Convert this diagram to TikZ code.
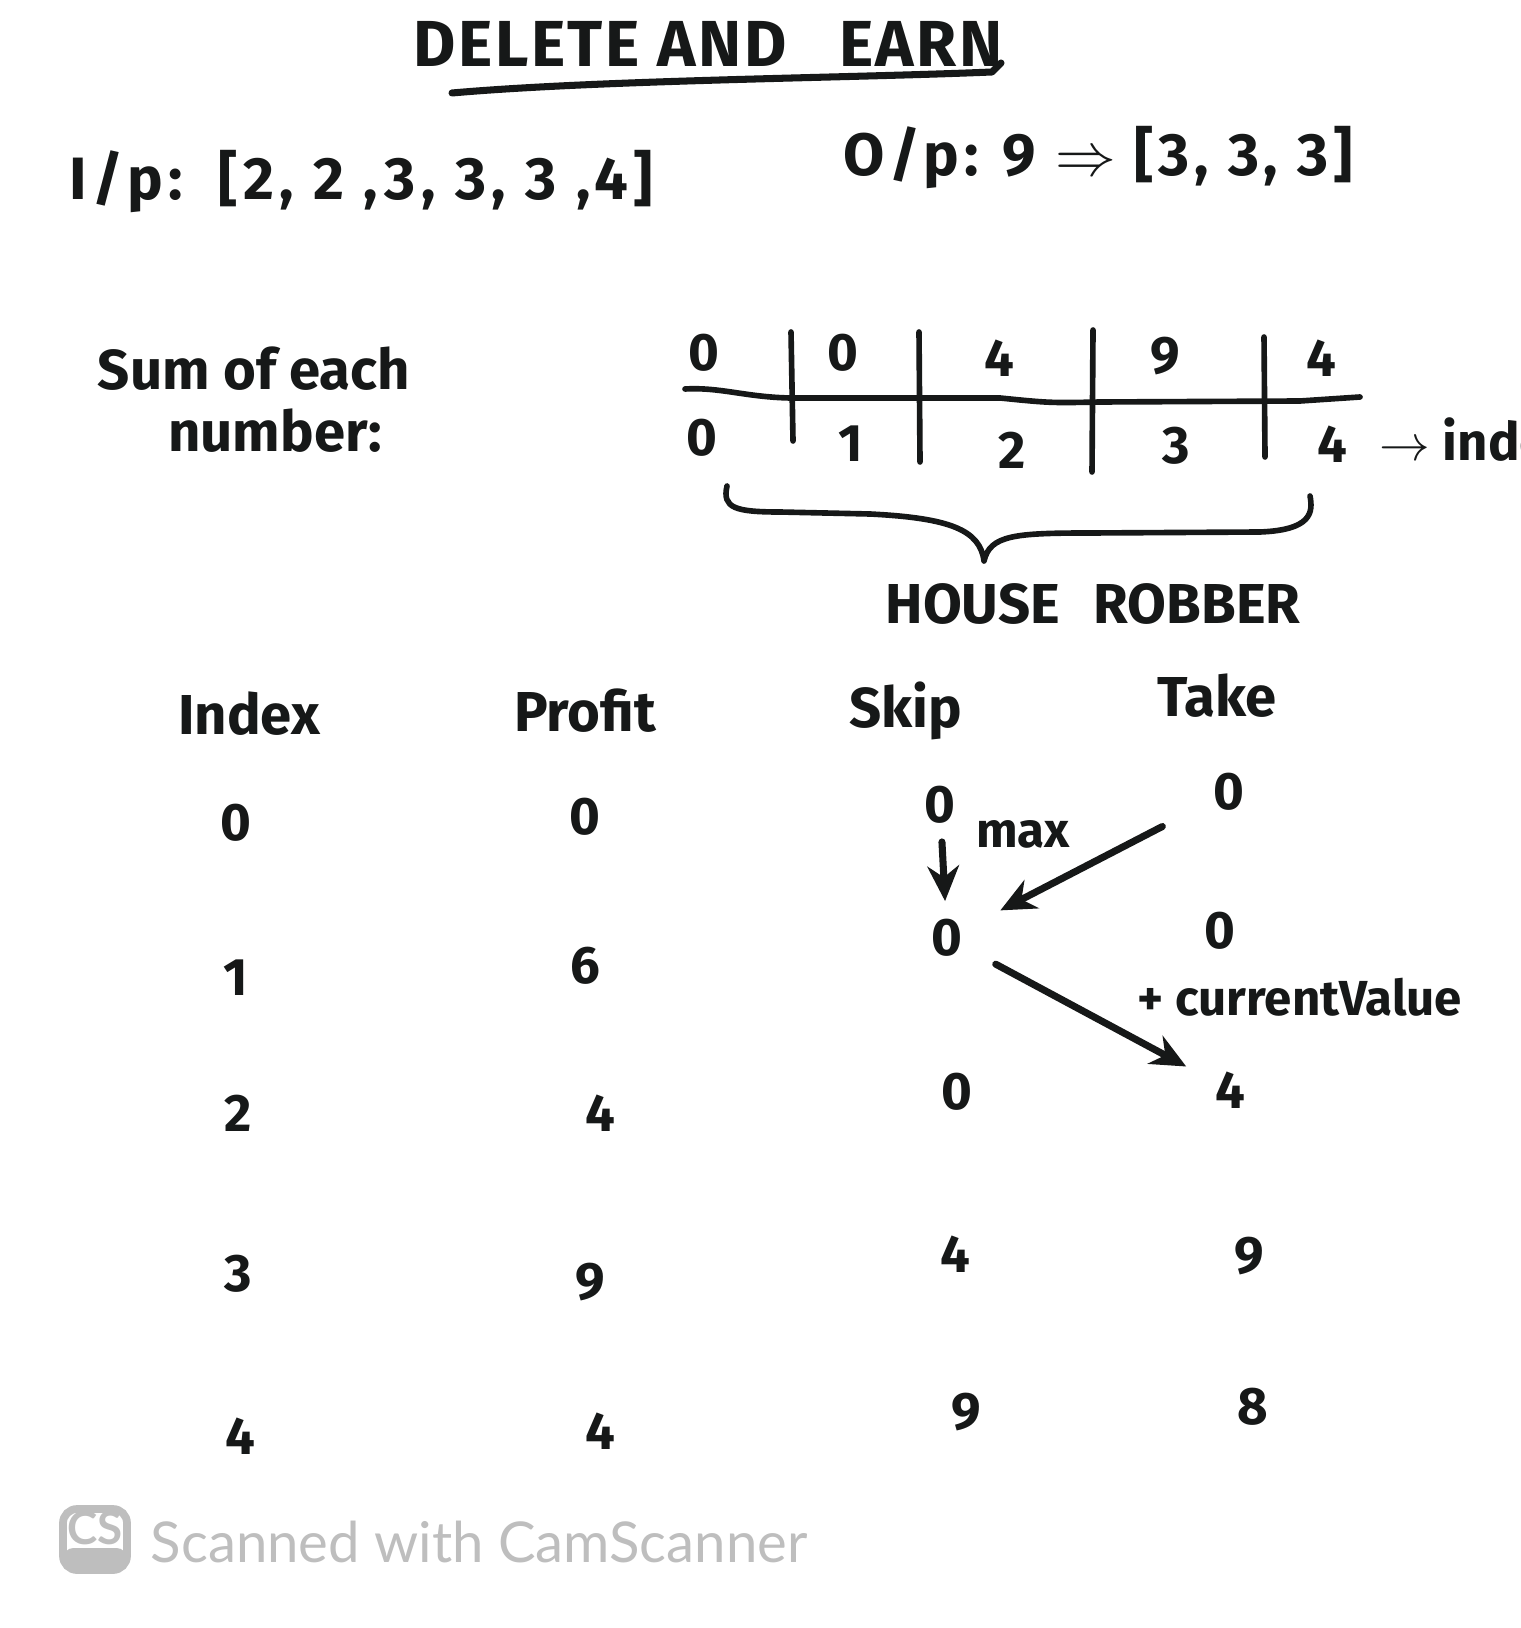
\documentclass[tikz,border=0pt]{standalone}
\usepackage{fontspec}
\setmainfont{Fira Sans}
\newfontfamily\wmfont{Lato}
\usetikzlibrary{arrows.meta}
\definecolor{wmgray}{RGB}{190,190,190}
\definecolor{ink}{RGB}{22,24,24}
\begin{document}
\begin{tikzpicture}[x=0.01cm,y=-0.01cm,
  hw/.style={text=ink, font=\fontsize{16}{18}\selectfont\bfseries, inner sep=2pt},
  val/.style={text=ink, font=\fontsize{15}{17}\selectfont\bfseries, inner sep=3pt},
  small/.style={text=ink, font=\fontsize{14}{16}\selectfont\bfseries, inner sep=2pt},
  pen/.style={draw=ink, line width=1.6pt, line cap=round, line join=round},
  arr/.style={pen, line width=2pt, -{Stealth[length=10pt,width=9pt]}},
  wm/.style={text=wmgray, font=\wmfont\fontsize{16}{18}\selectfont, inner sep=0pt}]
\useasboundingbox (0,0) rectangle (1520,1628);
\fill[white] (0,0) rectangle (1520,1628);

% title
\node[hw, font=\fontsize{18.5}{20}\selectfont\bfseries\addfontfeatures{LetterSpace=4}] (title) at (708,44) {DELETE AND\hspace{0.8em}EARN};
\draw[pen, line width=2pt] (452,93) .. controls (600,80) and (850,78) .. (992,72) -- (1001,63);

% input / output
\node[hw, anchor=west, font=\fontsize{17}{19}\selectfont\bfseries\addfontfeatures{LetterSpace=9}] (inp) at (62,182) {I/p:\hspace{0.6em}[2, 2 ,3, 3, 3 ,4]};
\node[hw, anchor=west, font=\fontsize{17}{19}\selectfont\bfseries\addfontfeatures{LetterSpace=8}] (outp) at (836,158) {O/p:\hspace{0.4em}9 $\Rightarrow$ [3, 3, 3]};

% sum of each number
\node[hw] (sum1) at (254,369) {Sum of each};
\node[hw] (sum2) at (275,431) {number:};

% array
\draw[pen] (685,389) .. controls (720,387) and (745,397) .. (790,398) -- (1000,398)
  .. controls (1050,403) .. (1100,402) -- (1300,401) -- (1360,397);
\draw[pen] (791,332) -- (793,441);
\draw[pen] (919,332) -- (920,462);
\draw[pen] (1093,330) -- (1092,472);
\draw[pen] (1264,337) -- (1265,457);
\node[val] (a0) at (704,353) {0};
\node[val] (a1) at (843,353) {0};
\node[val] (a2) at (999,358) {4};
\node[val] (a3) at (1165,356) {9};
\node[val] (a4) at (1321,358) {4};
\node[val] (i0) at (702,438) {0};
\node[val] (i1) at (851,444) {1};
\node[val] (i2) at (1012,450) {2};
\node[val] (i3) at (1176,446) {3};
\node[val] (i4) at (1332,444) {4};
\node[hw, anchor=west, font=\fontsize{15}{17}\selectfont\bfseries] (idx) at (1372,440) {$\rightarrow$ index};

% brace
\draw[pen] (727,486) .. controls (722,508) and (735,512) .. (780,512)
  -- (870,514) .. controls (950,518) and (980,530) .. (984,561)
  .. controls (990,535) and (1015,533) .. (1090,533)
  -- (1260,532) .. controls (1312,530) and (1313,512) .. (1310,496);
\node[hw] (hr) at (1093,604) {HOUSE\hspace{0.6em}ROBBER};

% table headers
\node[hw] (hidx) at (249,714) {Index};
\node[hw] (hprof) at (585,711) {Profit};
\node[hw] (hskip) at (906,711) {Skip};
\node[hw] (htake) at (1217,696) {Take};

% index column
\node[val] (x0) at (236,823) {0};
\node[val] (x1) at (236,978) {1};
\node[val] (x2) at (238,1113) {2};
\node[val] (x3) at (238,1274) {3};
\node[val] (x4) at (240,1436) {4};
% profit column
\node[val] (p0) at (585,817) {0};
\node[val] (p1) at (585,966) {6};
\node[val] (p2) at (600,1113) {4};
\node[val] (p3) at (590,1282) {9};
\node[val] (p4) at (600,1431) {4};
% skip column
\node[val] (s0) at (940,805) {0};
\node[val] (s1) at (947,938) {0};
\node[val] (s2) at (957,1092) {0};
\node[val] (s3) at (955,1254) {4};
\node[val] (s4) at (966,1412) {9};
% take column
\node[val] (t0) at (1229,792) {0};
\node[val] (t1) at (1220,931) {0};
\node[val] (t2) at (1230,1090) {4};
\node[val] (t3) at (1249,1256) {9};
\node[val] (t4) at (1253,1407) {8};

% arrows
\draw[arr, shorten <=2pt, shorten >=2pt] (s0) -- (s1);
\node[small] (max) at (1023,834) {max};
\draw[arr, shorten <=0.45cm, shorten >=0.3cm] (t0) -- (s1);
\draw[arr, shorten <=0.25cm, shorten >=0.2cm] (s1) -- (t2);
\node[small, anchor=west] (cv) at (1130,997) {+ currentValue};

% watermark
\draw[wmgray, line width=2.2pt, rounded corners=4pt] (63,1509) rectangle (127,1570);
\fill[wmgray, rounded corners=3pt] (63,1548) rectangle (127,1570);
\node[wm, font=\wmfont\fontsize{13}{14}\selectfont\bfseries] (cs) at (95,1528) {CS};
\node[wm, anchor=west] (wmt) at (150,1542) {Scanned with CamScanner};
\end{tikzpicture}
\end{document}
